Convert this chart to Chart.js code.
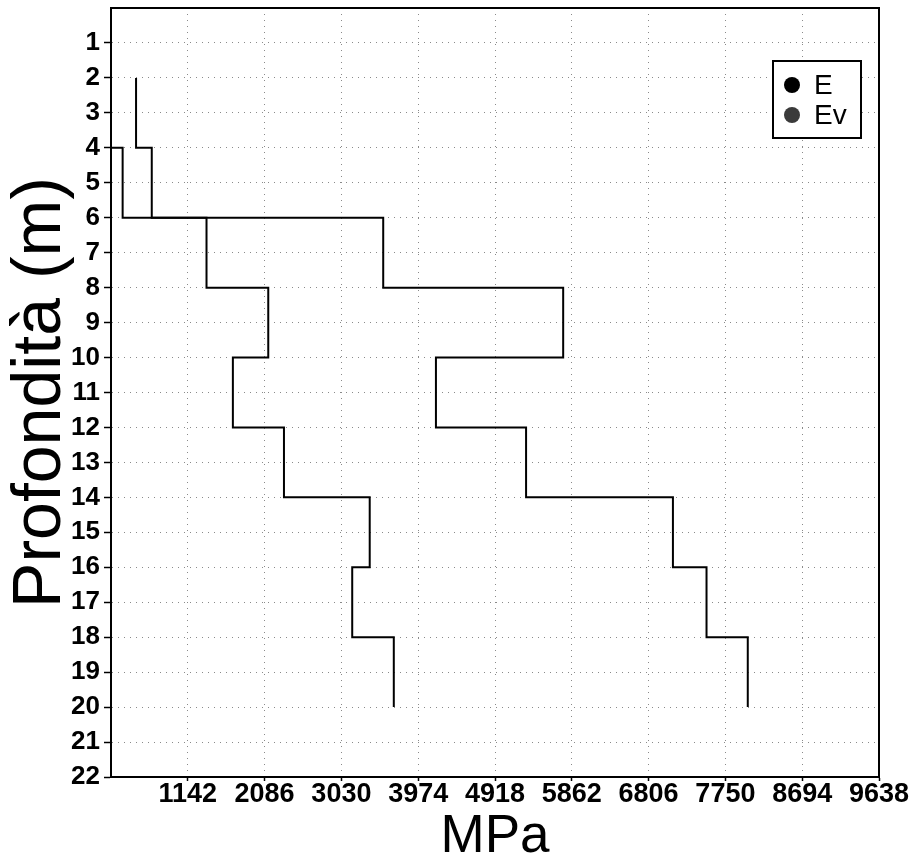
<!DOCTYPE html>
<html>
<head>
<meta charset="utf-8">
<script src="https://cdn.jsdelivr.net/npm/chart.js@4.4.1/dist/chart.umd.min.js"></script>
<style>
  html, body { margin: 0; padding: 0; background: #fff; }
  #wrap { position: relative; width: 911px; height: 859px; }
</style>
</head>
<body>
<div id="wrap"><canvas id="c" width="911" height="859"></canvas></div>
<script>
// ---- data ----
const depthBounds = [2, 4, 6, 8, 10, 12, 14, 16, 18, 20];         // layer boundaries (m)
const seriesNames = ['E', 'Ev'];
const valuesE  = [506, 699, 1372, 2131, 1696, 2324, 3378, 3163, 3674];   // MPa per layer
const valuesEv = [198, 341, 3544, 5756, 4192, 5300, 7105, 7518, 8025];   // MPa per layer
const xTicks = [198, 1142, 2086, 3030, 3974, 4918, 5862, 6806, 7750, 8694, 9638];
const xTickLabels = ['', '1142', '2086', '3030', '3974', '4918', '5862', '6806', '7750', '8694', '9638'];
const yTicks = [0, 1, 2, 3, 4, 5, 6, 7, 8, 9, 10, 11, 12, 13, 14, 15, 16, 17, 18, 19, 20, 21, 22];
const yTickLabels = ['', '1', '2', '3', '4', '5', '6', '7', '8', '9', '10', '11', '12', '13', '14', '15', '16', '17', '18', '19', '20', '21', '22'];
const xTitle = 'MPa';
const yTitle = 'Profondità (m)';

function stepPoints(vals) {
  const pts = [];
  for (let i = 0; i < vals.length; i++) {
    pts.push({x: vals[i], y: depthBounds[i]});
    pts.push({x: vals[i], y: depthBounds[i + 1]});
  }
  return pts;
}

const FONT = '"Liberation Sans", Arial, sans-serif';

const framePlugin = {
  id: 'frame',
  afterDatasetsDraw(chart) {
    const {ctx, chartArea: a} = chart;
    ctx.save();
    ctx.strokeStyle = '#000';
    ctx.lineWidth = 2;
    ctx.strokeRect(a.left, a.top, a.right - a.left, a.bottom - a.top);
    // legend box
    const bw = 88, bh = 77;
    const bx = a.right - 106, by = a.top + 53;
    ctx.fillStyle = '#fff';
    ctx.fillRect(bx, by, bw, bh);
    ctx.lineWidth = 2;
    ctx.strokeRect(bx, by, bw, bh);
    ctx.font = '28px ' + FONT;
    ctx.textBaseline = 'middle';
    chart.data.datasets.forEach((ds, i) => {
      const cy = by + 24 + i * 30;
      ctx.beginPath();
      ctx.fillStyle = ds.backgroundColor;
      ctx.arc(bx + 19, cy, 8, 0, Math.PI * 2);
      ctx.fill();
      ctx.fillStyle = '#000';
      ctx.fillText(ds.label, bx + 41, cy + 1);
    });
    ctx.restore();
  }
};

const edgeTick = (first) => (c) => (c.index === 0 ? 'rgba(0,0,0,0)' : '#000');

new Chart(document.getElementById('c'), {
  type: 'scatter',
  data: {
    datasets: [
      {label: seriesNames[0], data: stepPoints(valuesE), showLine: true, borderColor: '#000',
       backgroundColor: '#000', borderWidth: 2, pointRadius: 0, tension: 0},
      {label: seriesNames[1], data: stepPoints(valuesEv), showLine: true, borderColor: '#000',
       backgroundColor: '#3a3a3a', borderWidth: 2, pointRadius: 0, tension: 0}
    ]
  },
  options: {
    responsive: false,
    animation: false,
    devicePixelRatio: 1,
    layout: {padding: {top: 8, right: 32, left: 0, bottom: 0}},
    plugins: {legend: {display: false}, tooltip: {enabled: false}},
    scales: {
      x: {
        type: 'linear',
        position: 'bottom',
        min: xTicks[0],
        max: xTicks[xTicks.length - 1],
        afterBuildTicks(scale) { scale.ticks = xTicks.map(v => ({value: v})); },
        afterFit(scale) { scale.height = 82; scale.paddingLeft = 0; },
        ticks: {
          autoSkip: false, maxRotation: 0, padding: -3,
          color: '#000',
          font: {family: FONT, size: 27, weight: 'bold'},
          callback: (v, i) => xTickLabels[i]
        },
        grid: {color: '#8a8a8a', lineWidth: 1, tickLength: 4, tickColor: edgeTick(), tickWidth: 1.5},
        border: {color: '#000', width: 2, dash: [1, 5]},
        title: {display: true, text: xTitle, color: '#000',
                font: {family: FONT, size: 53, lineHeight: 0.8}, padding: {top: 0, bottom: 0}}
      },
      y: {
        type: 'linear',
        position: 'left',
        reverse: true,
        min: yTicks[0],
        max: yTicks[yTicks.length - 1],
        afterBuildTicks(scale) { scale.ticks = yTicks.map(v => ({value: v})); },
        afterFit(scale) { scale.width = 111; scale.paddingTop = 0; scale.paddingBottom = 0; },
        ticks: {
          autoSkip: false, padding: 4,
          color: '#000',
          font: {family: FONT, size: 26, weight: 'bold'},
          callback: (v, i) => yTickLabels[i]
        },
        grid: {color: '#8a8a8a', lineWidth: 1, tickLength: 7, tickColor: edgeTick(), tickWidth: 1.5},
        border: {color: '#000', width: 2, dash: [1, 5]},
        title: {display: true, text: yTitle, color: '#000',
                font: {family: FONT, size: 68, lineHeight: 1}, padding: {top: 7, bottom: 0}}
      }
    }
  },
  plugins: [framePlugin]
});
</script>
</body>
</html>
